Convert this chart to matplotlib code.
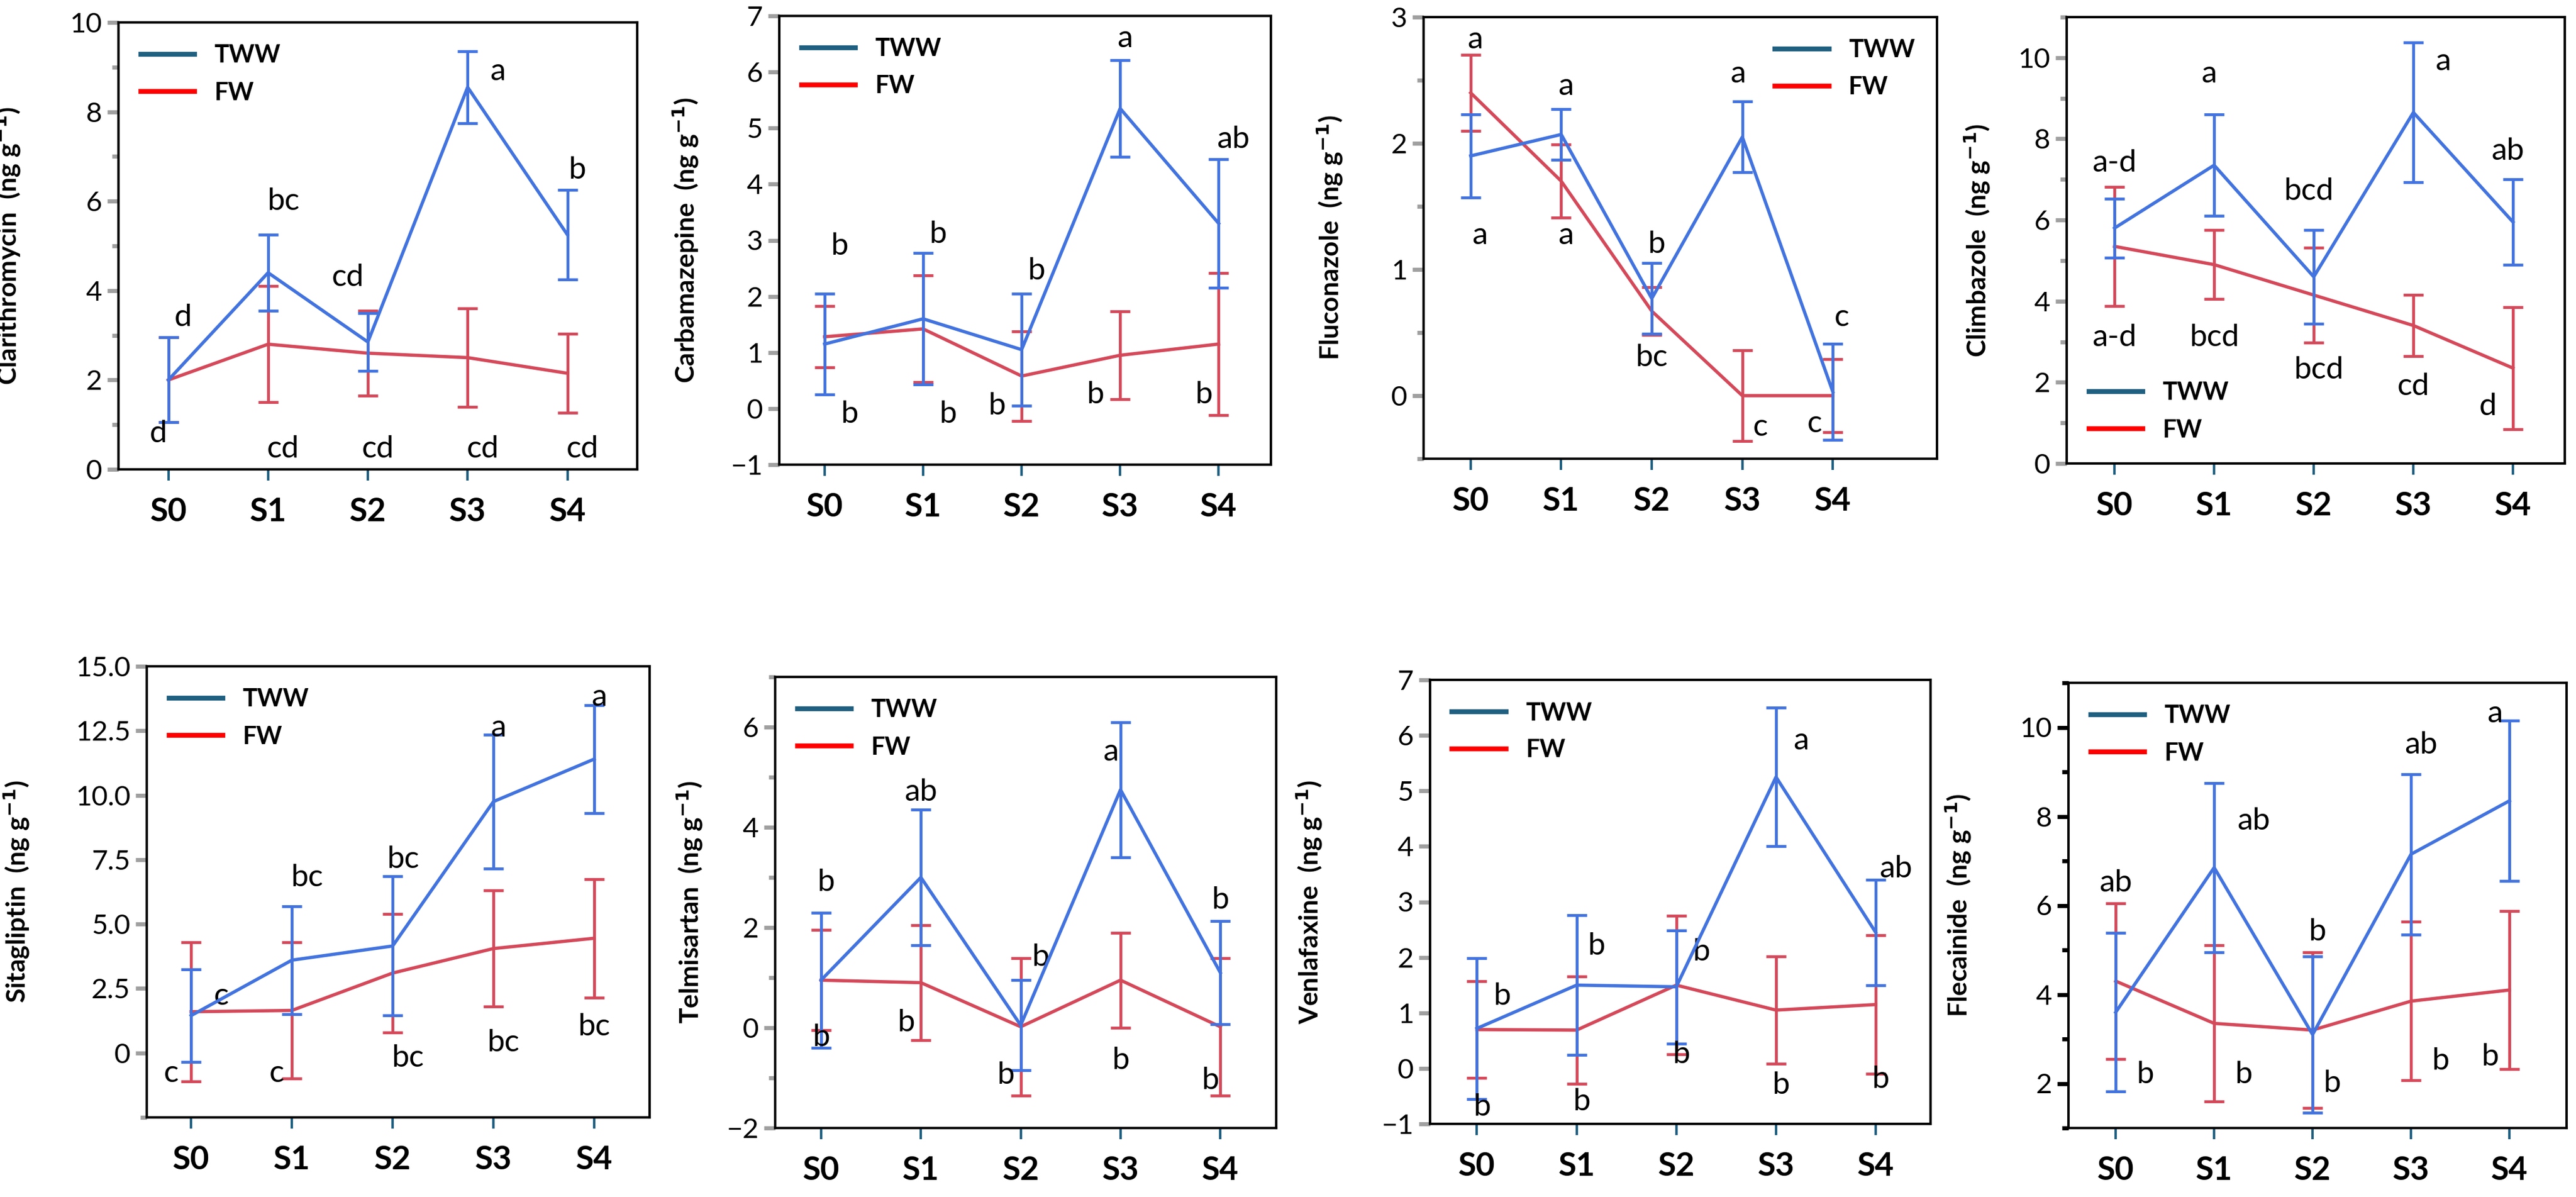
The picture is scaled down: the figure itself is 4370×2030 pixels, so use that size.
import matplotlib
matplotlib.use("Agg")
import matplotlib.pyplot as plt
from matplotlib.lines import Line2D
from matplotlib.ticker import FixedLocator, FuncFormatter
import numpy as np

plt.rcParams['font.family'] = ['Lato', 'DejaVu Sans']

stages = ["S0", "S1", "S2", "S3", "S4"]
compounds = ["Clarithromycin", "Carbamazepine", "Fluconazole", "Climbazole",
             "Sitagliptin", "Telmisartan", "Venlafaxine", "Flecainide"]

tww_mean = [[2.0, 4.4, 2.85, 8.55, 5.25],
            [1.15, 1.6, 1.05, 5.35, 3.3],
            [1.9, 2.07, 0.77, 2.05, 0.03],
            [5.8, 7.35, 4.6, 8.65, 5.95],
            [1.45, 3.6, 4.15, 9.75, 11.4],
            [0.95, 3.0, 0.05, 4.75, 1.1],
            [0.72, 1.5, 1.47, 5.25, 2.45],
            [3.6, 6.85, 3.1, 7.15, 8.35]]
tww_err = [[0.95, 0.85, 0.65, 0.8, 1.0],
           [0.9, 1.17, 1.0, 0.86, 1.15],
           [0.33, 0.2, 0.28, 0.28, 0.38],
           [0.73, 1.25, 1.15, 1.72, 1.05],
           [1.8, 2.1, 2.7, 2.6, 2.1],
           [1.35, 1.35, 0.9, 1.35, 1.03],
           [1.27, 1.26, 1.02, 1.25, 0.95],
           [1.78, 1.9, 1.75, 1.8, 1.8]]
fw_mean = [[2.0, 2.8, 2.6, 2.5, 2.15],
           [1.28, 1.42, 0.58, 0.95, 1.15],
           [2.4, 1.7, 0.67, 0.0, 0.0],
           [5.35, 4.9, 4.15, 3.4, 2.35],
           [1.6, 1.65, 3.1, 4.05, 4.45],
           [0.95, 0.9, 0.02, 0.95, 0.02],
           [0.7, 0.69, 1.5, 1.05, 1.15],
           [4.3, 3.35, 3.2, 3.85, 4.1]]
fw_err = [[0.95, 1.3, 0.95, 1.1, 0.88],
          [0.55, 0.95, 0.8, 0.78, 1.27],
          [0.3, 0.29, 0.19, 0.36, 0.29],
          [1.47, 0.85, 1.17, 0.75, 1.5],
          [2.7, 2.65, 2.3, 2.25, 2.3],
          [1.0, 1.15, 1.37, 0.95, 1.37],
          [0.87, 0.97, 1.25, 0.97, 1.25],
          [1.75, 1.75, 1.75, 1.78, 1.78]]

# significance letters: (x, y, text)
letters = [
    [(0.15, 3.4, "d"), (1.15, 6.0, "bc"), (1.8, 4.3, "cd"), (3.3, 8.9, "a"), (4.1, 6.7, "b"),
     (-0.1, 0.8, "d"), (1.15, 0.45, "cd"), (2.1, 0.45, "cd"), (3.15, 0.45, "cd"), (4.15, 0.45, "cd")],
    [(0.15, 2.9, "b"), (1.15, 3.1, "b"), (2.15, 2.45, "b"), (3.05, 6.6, "a"), (4.15, 4.8, "ab"),
     (0.25, -0.1, "b"), (1.25, -0.1, "b"), (1.75, 0.05, "b"), (2.75, 0.25, "b"), (3.85, 0.25, "b")],
    [(0.05, 2.82, "a"), (0.1, 1.27, "a"), (1.05, 2.45, "a"), (1.05, 1.27, "a"), (2.05, 1.2, "b"),
     (2.0, 0.3, "bc"), (2.95, 2.55, "a"), (3.2, -0.25, "c"), (3.8, -0.22, "c"), (4.1, 0.62, "c")],
    [(0.0, 7.4, "a-d"), (0.95, 9.6, "a"), (1.95, 6.7, "bcd"), (3.3, 9.9, "a"), (3.95, 7.7, "ab"),
     (0.0, 3.1, "a-d"), (1.0, 3.1, "bcd"), (2.05, 2.3, "bcd"), (3.0, 1.9, "cd"), (3.75, 1.4, "d")],
    [(0.3, 2.2, "c"), (1.15, 6.8, "bc"), (2.1, 7.5, "bc"), (3.05, 12.6, "a"), (4.05, 13.8, "a"),
     (-0.2, -0.8, "c"), (0.85, -0.8, "c"), (2.15, -0.2, "bc"), (3.1, 0.4, "bc"), (4.0, 1.0, "bc")],
    [(0.05, 2.9, "b"), (1.0, 4.7, "ab"), (2.2, 1.4, "b"), (2.9, 5.5, "a"), (4.0, 2.55, "b"),
     (0.0, -0.2, "b"), (0.85, 0.1, "b"), (1.85, -0.95, "b"), (3.0, -0.65, "b"), (3.9, -1.05, "b")],
    [(0.25, 1.3, "b"), (1.2, 2.2, "b"), (2.25, 2.1, "b"), (3.25, 5.9, "a"), (4.2, 3.6, "ab"),
     (0.05, -0.7, "b"), (1.05, -0.6, "b"), (2.05, 0.25, "b"), (3.05, -0.3, "b"), (4.05, -0.2, "b")],
    [(0.0, 6.5, "ab"), (1.4, 7.9, "ab"), (2.05, 5.4, "b"), (3.1, 9.6, "ab"), (3.85, 10.3, "a"),
     (0.3, 2.2, "b"), (1.3, 2.2, "b"), (2.2, 2.0, "b"), (3.3, 2.5, "b"), (3.8, 2.6, "b")],
]

ylims = [(0, 10), (-1, 7), (-0.5, 3), (0, 11), (-2.5, 15), (-2, 7), (-1, 7), (1, 11)]
major_ticks = [[0, 2, 4, 6, 8, 10], list(range(-1, 8)), [0, 1, 2, 3], [0, 2, 4, 6, 8, 10],
               [0, 2.5, 5, 7.5, 10, 12.5, 15], [-2, 0, 2, 4, 6], list(range(-1, 8)), [2, 4, 6, 8, 10]]
minor_ticks = [[1, 3, 5, 7, 9], [], [-0.5, 0.5, 1.5, 2.5], [1, 3, 5, 7, 9, 11],
               [-2.5], [-1, 1, 3, 5, 7], [], [1, 3, 5, 7, 9, 11]]
xlims = [(-0.5, 4.7), (-0.46, 4.53), (-0.52, 5.15), (-0.48, 4.52),
         (-0.44, 4.55), (-0.46, 4.56), (-0.47, 4.55), (-0.48, 4.58)]
# axes boxes in pixels: left, top, right, bottom
boxes = [(201, 38, 1081, 796), (1322, 27, 2156, 788), (2415, 29, 3286, 778), (3506, 29, 4351, 786),
         (249, 1130, 1102, 1895), (1315, 1148, 2165, 1913), (2426, 1153, 3275, 1906), (3509, 1158, 4354, 1913)]
label_off = [-163, -134, -134, -127, -196, -120, -180, -162]
legend_loc = ["upper left", "upper left", "upper right", "lower left",
              "upper left", "upper left", "upper left", "upper left"]

W, H = 4370, 2030
fig = plt.figure(figsize=(W / 100, H / 100), dpi=100)
blue = "#4273de"
red = "#d4495a"
x = np.arange(len(stages))

for i in range(8):
    l, t, r, b = boxes[i]
    ax = fig.add_axes([l / W, 1 - b / H, (r - l) / W, (b - t) / H])
    ax.errorbar(x, tww_mean[i], yerr=tww_err[i], color=blue, lw=4, elinewidth=3.5,
                capsize=12, capthick=3.5, zorder=3)
    ax.errorbar(x, fw_mean[i], yerr=fw_err[i], color=red, lw=4, elinewidth=3.5,
                capsize=12, capthick=3.5, zorder=2)
    for (lx, ly, txt) in letters[i]:
        ax.text(lx, ly, txt, fontsize=38, ha="center", va="center", color="black")
    ax.set_xlim(*xlims[i])
    ax.set_ylim(*ylims[i])
    ax.set_xticks(x)
    ax.set_xticklabels(stages, fontsize=40, fontweight="bold")
    ax.tick_params(axis="x", length=14, width=3, color="#1f5f80", pad=20)
    ax.yaxis.set_major_locator(FixedLocator(major_ticks[i]))
    ax.yaxis.set_minor_locator(FixedLocator(minor_ticks[i]))
    if i == 4:
        ax.yaxis.set_major_formatter(FuncFormatter(lambda v, p: "0" if v == 0 else f"{v:.1f}"))
    else:
        ax.yaxis.set_major_formatter(FuncFormatter(lambda v, p: f"{v:g}".replace("-", "\u2212")))
    tc = "black" if i == 7 else "#a0a0a0"
    ax.tick_params(axis="y", which="major", length=14, width=5, color=tc, labelsize=34, pad=6)
    ax.tick_params(axis="y", which="minor", length=8, width=5, color=tc)
    for s in ax.spines.values():
        s.set_linewidth(3)
    ax.set_ylabel(compounds[i] + "  (ng g$^{\\mathbf{-1}}$)", fontsize=32, fontweight="bold")
    ax.yaxis.set_label_coords(label_off[i] / (r - l), 0.5)
    handles = [Line2D([], [], color="#1f5f80", lw=6), Line2D([], [], color="#ff0000", lw=6)]
    ax.legend(handles, ["TWW", "FW"], loc=legend_loc[i], frameon=False,
              prop={"size": 30, "weight": "bold"}, handlelength=2.2, labelspacing=0.6)

fig.savefig("out.png", dpi=100)
